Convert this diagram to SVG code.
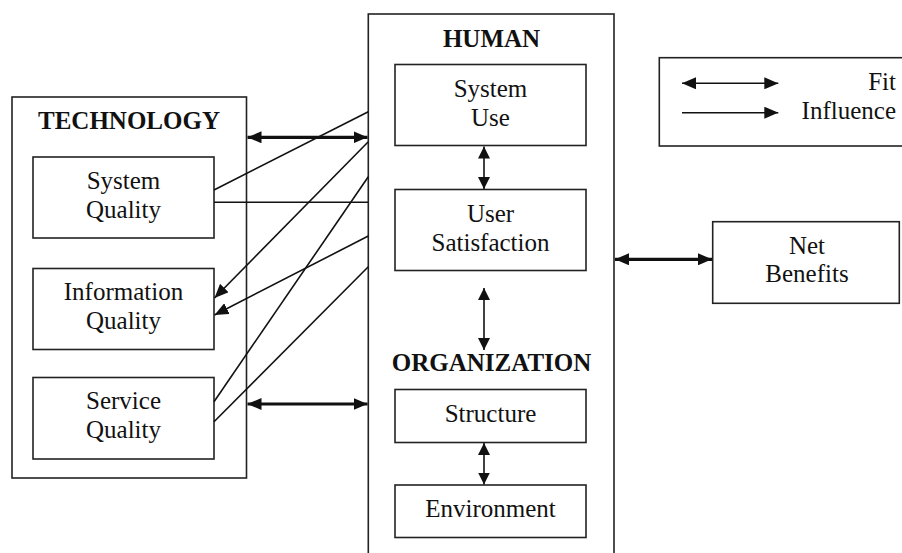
<svg xmlns="http://www.w3.org/2000/svg" width="902" height="553" viewBox="0 0 902 553">
<style>
.box{fill:none;stroke:#222;stroke-width:1.6}
.t{font-family:"Liberation Serif","Times New Roman",serif;font-size:25px;fill:#111;text-anchor:middle}
.h{font-weight:bold}
.thin{stroke:#111;stroke-width:1.6;fill:none}
.thick{stroke:#111;stroke-width:3.2;fill:none}
</style>
<defs>
<marker id="ah" markerUnits="userSpaceOnUse" markerWidth="14" markerHeight="12" refX="14" refY="6" orient="auto-start-reverse">
<path d="M0,0 L14,6 L0,12 z" fill="#111"/>
</marker>
<marker id="ahs" markerUnits="userSpaceOnUse" markerWidth="12" markerHeight="12" refX="12" refY="6" orient="auto-start-reverse">
<path d="M0,0 L12,6 L0,12 z" fill="#111"/>
</marker>
</defs>
<rect width="902" height="553" fill="#fff"/>

<g id="technology">
<rect class="box" x="12" y="97" width="234.5" height="381"/>
<text class="t h" x="129" y="129">TECHNOLOGY</text>
</g>
<g id="system-quality">
<rect class="box" x="33" y="157" width="181" height="81"/>
<text class="t" x="123.5" y="189">System</text>
<text class="t" x="123.5" y="218">Quality</text>
</g>
<g id="information-quality">
<rect class="box" x="33" y="268.5" width="181" height="81"/>
<text class="t" x="123.5" y="300">Information</text>
<text class="t" x="123.5" y="329">Quality</text>
</g>
<g id="service-quality">
<rect class="box" x="33" y="377.5" width="181" height="81.5"/>
<text class="t" x="123.5" y="409">Service</text>
<text class="t" x="123.5" y="438">Quality</text>
</g>

<g id="human">
<rect class="box" x="368.3" y="14" width="245.7" height="560"/>
<text class="t h" x="491.5" y="47">HUMAN</text>
<text class="t h" x="491.5" y="371">ORGANIZATION</text>
</g>
<g id="system-use">
<rect class="box" x="395" y="64.5" width="191" height="81"/>
<text class="t" x="490.5" y="97">System</text>
<text class="t" x="490.5" y="126">Use</text>
</g>
<g id="user-satisfaction">
<rect class="box" x="395" y="189.5" width="191" height="81"/>
<text class="t" x="490.5" y="222">User</text>
<text class="t" x="490.5" y="251">Satisfaction</text>
</g>
<g id="structure">
<rect class="box" x="395" y="389.5" width="191" height="53"/>
<text class="t" x="490.5" y="422">Structure</text>
</g>
<g id="environment">
<rect class="box" x="395" y="485" width="191" height="52.5"/>
<text class="t" x="490.5" y="517">Environment</text>
</g>

<g id="net-benefits">
<rect class="box" x="712.7" y="221.7" width="186.6" height="81.6"/>
<text class="t" x="807" y="253.5">Net</text>
<text class="t" x="807" y="282">Benefits</text>
</g>

<g id="legend">
<rect class="box" x="659.3" y="57.7" width="250" height="88.3"/>
<line class="thin" x1="682" y1="83.3" x2="778.3" y2="83.3" marker-start="url(#ah)" marker-end="url(#ah)"/>
<line class="thin" x1="682" y1="112.7" x2="778.3" y2="112.7" marker-end="url(#ah)"/>
<text class="t" x="896" y="90" style="text-anchor:end">Fit</text>
<text class="t" x="896" y="119" style="text-anchor:end">Influence</text>
</g>

<g id="connectors">
<line class="thick" x1="247.5" y1="137.3" x2="367.5" y2="137.3" marker-start="url(#ah)" marker-end="url(#ah)"/>
<line class="thick" x1="247.5" y1="404" x2="367.5" y2="404" marker-start="url(#ah)" marker-end="url(#ah)"/>
<line class="thick" x1="615" y1="259.3" x2="712" y2="259.3" marker-start="url(#ah)" marker-end="url(#ah)"/>
<line class="thin" x1="484" y1="146.5" x2="484" y2="189" marker-start="url(#ahs)" marker-end="url(#ahs)"/>
<line class="thin" x1="484" y1="288" x2="484" y2="350" marker-start="url(#ahs)" marker-end="url(#ahs)"/>
<line class="thin" x1="484" y1="443" x2="484" y2="484.5" marker-start="url(#ahs)" marker-end="url(#ahs)"/>
<line class="thin" x1="214" y1="190" x2="368.3" y2="111.7"/>
<line class="thin" x1="214" y1="202.3" x2="368.3" y2="202.3"/>
<line class="thin" x1="368.3" y1="141.7" x2="214.5" y2="298" marker-end="url(#ah)"/>
<line class="thin" x1="368.3" y1="236" x2="214.5" y2="315" marker-end="url(#ah)"/>
<line class="thin" x1="214" y1="401.7" x2="368.3" y2="176.7"/>
<line class="thin" x1="214" y1="421.7" x2="368.3" y2="266.7"/>
</g>
</svg>
